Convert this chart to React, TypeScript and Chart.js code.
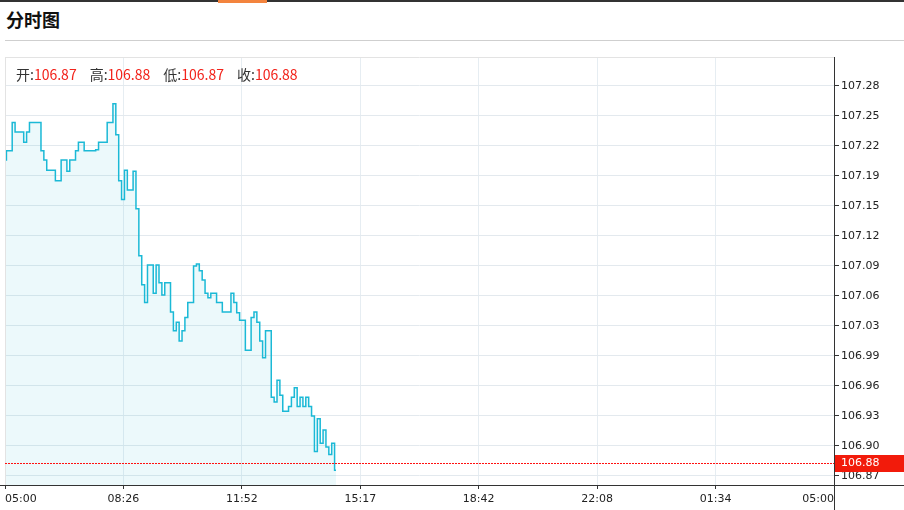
import React, { useEffect, useRef } from "react";
import Chart from "chart.js/auto";

// ---- data ----
const intervalMinutes = 5; // sample spacing, minutes after 05:00
const prices: number[] = [
  107.203, 107.213, 107.213, 107.243, 107.233, 107.233, 107.233, 107.222, 107.233, 107.243,
  107.243, 107.243, 107.243, 107.213, 107.203, 107.192, 107.192, 107.192, 107.181, 107.181,
  107.203, 107.203, 107.191, 107.203, 107.203, 107.213, 107.222, 107.222, 107.213, 107.213,
  107.213, 107.213, 107.214, 107.222, 107.222, 107.222, 107.243, 107.243, 107.263, 107.230,
  107.181, 107.161, 107.192, 107.171, 107.171, 107.191, 107.151, 107.101, 107.070, 107.051,
  107.091, 107.091, 107.061, 107.091, 107.072, 107.059, 107.072, 107.072, 107.041, 107.021,
  107.030, 107.010, 107.021, 107.035, 107.051, 107.051, 107.090, 107.092, 107.085, 107.075,
  107.061, 107.056, 107.061, 107.061, 107.051, 107.051, 107.041, 107.041, 107.041, 107.061,
  107.051, 107.040, 107.032, 107.032, 107.000, 107.000, 107.035, 107.041, 107.030, 107.010,
  106.992, 107.021, 107.021, 106.950, 106.945, 106.968, 106.952, 106.935, 106.935, 106.940,
  106.950, 106.960, 106.940, 106.950, 106.940, 106.950, 106.940, 106.930, 106.892, 106.927,
  106.901, 106.915, 106.897, 106.889, 106.901, 106.872,
];
const sessionMinutes = 1440;
const xTickLabels = ["05:00", "08:26", "11:52", "15:17", "18:42", "22:08", "01:34", "05:00"];
const yTickLabels = [
  "107.28", "107.25", "107.22", "107.19", "107.15", "107.12", "107.09",
  "107.06", "107.03", "106.99", "106.96", "106.93", "106.90", "106.87",
];
const yTickTop = 107.282;
const yTickStep = 0.032;
const yMin = 106.8564;
const yMax = 107.3129;
const lastPrice = 106.88;
const lastPriceLabel = "106.88";
const headerLabels = ["开", "高", "低", "收"];
const headerValues = ["106.87", "106.88", "106.87", "106.88"];

const AXIS_FONT = { family: "'DejaVu Sans', sans-serif", size: 11 };

function zeroPadding(scale: any) {
  scale.paddingTop = 0;
  scale.paddingBottom = 0;
  scale.paddingLeft = 0;
  scale.paddingRight = 0;
}

export default function App() {
  const canvasRef = useRef<HTMLCanvasElement | null>(null);

  useEffect(() => {
    document.body.style.margin = "0";
    const canvas = canvasRef.current;
    if (!canvas) return;

    const points = prices.map((p, i) => ({ x: i * intervalMinutes, y: p }));
    const xTickValues = xTickLabels.map((_, i) => (i * sessionMinutes) / (xTickLabels.length - 1));
    const yTickValues = yTickLabels.map((_, i) => yTickTop - i * yTickStep);

    const framePlugin = {
      id: "frame",
      afterDraw(chart: any) {
        const { ctx, chartArea, width, height } = chart;
        const { left, right, top, bottom } = chartArea;
        const yScale = chart.scales.y;
        ctx.save();
        ctx.lineWidth = 1;
        ctx.strokeStyle = "#e3e3e3";
        ctx.beginPath();
        ctx.moveTo(left, top + 0.5);
        ctx.lineTo(right, top + 0.5);
        ctx.moveTo(left + 0.5, top);
        ctx.lineTo(left + 0.5, bottom);
        ctx.stroke();

        // red dotted last-price line
        const py = yScale.getPixelForValue(lastPrice);
        const ry = Math.round(py);
        ctx.fillStyle = "#ff1010";
        for (let x = Math.round(left); x < right; x += 3) {
          ctx.fillRect(x, ry, 2, 1);
        }

        ctx.strokeStyle = "#333333";
        ctx.beginPath();
        ctx.moveTo(0, Math.round(bottom) + 0.5);
        ctx.lineTo(width, Math.round(bottom) + 0.5);
        ctx.moveTo(Math.round(right) + 0.5, top);
        ctx.lineTo(Math.round(right) + 0.5, height);
        ctx.stroke();

        ctx.fillStyle = "#f21b0b";
        ctx.fillRect(Math.round(right) + 1, ry - 8, width - right, 17);
        ctx.fillStyle = "#ffffff";
        ctx.font = "11px 'DejaVu Sans', sans-serif";
        ctx.textBaseline = "middle";
        ctx.textAlign = "left";
        ctx.fillText(lastPriceLabel, right + 7, py + 0.5);
        ctx.restore();
      },
    };

    const chart = new Chart(canvas, {
      type: "line",
      data: {
        datasets: [
          {
            data: points,
            borderColor: "#1bb9d6",
            borderWidth: 1.5,
            backgroundColor: "rgba(40, 190, 215, 0.09)",
            fill: "start",
            pointRadius: 0,
            stepped: "middle",
          },
        ],
      },
      options: {
        animation: false,
        responsive: false,
        maintainAspectRatio: false,
        layout: { padding: { left: 5, right: 0, top: 0, bottom: 0 } },
        plugins: { legend: { display: false }, tooltip: { enabled: false } },
        events: [],
        scales: {
          x: {
            type: "linear",
            min: 0,
            max: sessionMinutes,
            border: { display: false },
            grid: { color: "#e6edf2", tickColor: "#333", tickLength: 4, drawTicks: true },
            afterBuildTicks: (scale: any) => {
              scale.ticks = xTickValues.map((v) => ({ value: v }));
            },
            afterFit: (scale: any) => {
              scale.height = 25;
              zeroPadding(scale);
            },
            ticks: {
              autoSkip: false,
              maxRotation: 0,
              minRotation: 0,
              align: "inner",
              padding: 4,
              color: "#222",
              font: AXIS_FONT,
              callback: (_v: any, i: number) => xTickLabels[i],
            },
          },
          y: {
            position: "right",
            min: yMin,
            max: yMax,
            border: { display: false },
            grid: { color: "#e3e9ee", tickColor: "#333", tickLength: 5, drawTicks: true },
            afterBuildTicks: (scale: any) => {
              scale.ticks = yTickValues.map((v) => ({ value: v }));
            },
            afterFit: (scale: any) => {
              scale.width = 70;
              zeroPadding(scale);
            },
            ticks: {
              autoSkip: false,
              padding: 2,
              color: "#222",
              font: AXIS_FONT,
              callback: (_v: any, i: number) => yTickLabels[i],
            },
          },
        },
      },
      plugins: [framePlugin],
    });

    return () => chart.destroy();
  }, []);

  return (
    <div style={{ position: "relative", width: 904, height: 510, background: "#fff", overflow: "hidden", fontFamily: "'Noto Sans CJK SC', sans-serif" }}>
      <div style={{ position: "absolute", left: 0, top: 0, width: 904, height: 2, background: "#333" }} />
      <div style={{ position: "absolute", left: 218, top: 0, width: 49, height: 3, background: "#f3843e" }} />
      <div style={{ position: "absolute", left: 6, top: 8, fontSize: 18, fontWeight: 700, lineHeight: "22px", color: "#111" }}>分时图</div>
      <div style={{ position: "absolute", left: 5, top: 40, width: 899, height: 1, background: "#cfcfcf" }} />
      <canvas ref={canvasRef} width={904} height={453} style={{ position: "absolute", left: 0, top: 57, width: 904, height: 453 }} />
      <div style={{ position: "absolute", left: 16, top: 65, fontSize: 14, lineHeight: "18px", whiteSpace: "nowrap", display: "flex" }}>
        {headerLabels.map((lab, i) => (
          <span key={i} style={{ marginRight: 13 }}>
            <span style={{ color: "#333" }}>{lab}:</span>
            <span style={{ color: "#f2231b" }}>{headerValues[i]}</span>
          </span>
        ))}
      </div>
    </div>
  );
}
